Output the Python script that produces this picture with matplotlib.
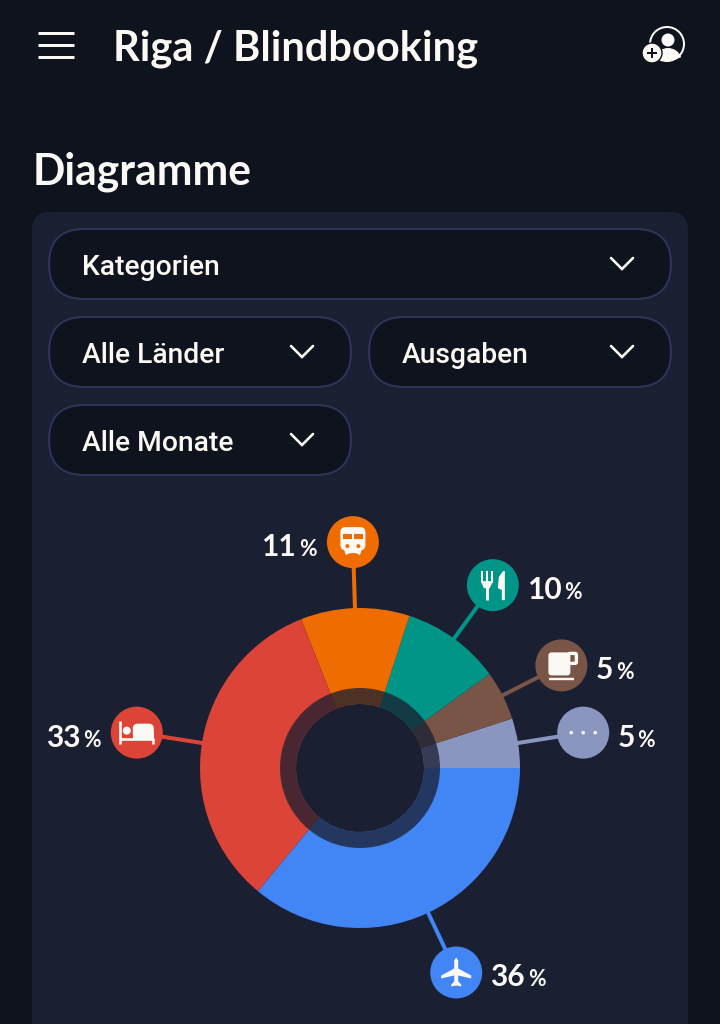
import numpy as np
import matplotlib
matplotlib.use("Agg")
import matplotlib.pyplot as plt
from matplotlib.patches import FancyBboxPatch, Circle, Rectangle, Polygon, Wedge

categories = ["Sonstiges", "Kaffee", "Essen", "Transport", "Unterkunft", "Flug"]
shares = [5, 5, 10, 11, 33, 36]
colors = ["#8a96bf", "#795548", "#009587", "#ef6c00", "#dc4437", "#4285f4"]
dropdowns = ["Kategorien", "Alle Länder", "Ausgaben", "Alle Monate"]
title = "Riga / Blindbooking"
heading = "Diagramme"

BG, CARD, EDGE, WHITE = "#0f131e", "#1a1f32", "#2e3357", "#fbf9f4"
W, H = 720, 1024
fig = plt.figure(figsize=(W/100, H/100), dpi=100, facecolor=BG)
ax = fig.add_axes([0, 0, 1, 1])
Y = lambda y: H - y
PX = 0.72  # points per pixel

def rrect(x0, y0, x1, y1, r, **kw):
    ax.add_patch(FancyBboxPatch((x0, Y(y1)), x1-x0, y1-y0, boxstyle=f"round,pad=0,rounding_size={r}", **kw))

def seg(pts, color=WHITE, lw=2, z=8, cap="round"):
    xs, ys = zip(*pts)
    ax.plot(xs, [Y(v) for v in ys], color=color, lw=lw*PX, solid_capstyle=cap, solid_joinstyle="miter", zorder=z)

def txt(x, y, s, size, weight="normal", fam="Roboto", ha="left"):
    return ax.text(x, Y(y), s, fontsize=size, fontweight=weight, family=fam, color=WHITE, ha=ha, va="baseline", zorder=9)

# page chrome
rrect(32, 212, 688, 1100, 18, fc=CARD, ec="none", zorder=1)
for yy in (33, 45, 57):
    seg([(38, yy), (74, yy)], lw=3, cap="butt")
txt(113, 61, title, 30, "bold", "Lato")
txt(33, 185, heading, 30.7, "bold", "Lato")

# profile icon
ax.add_patch(Circle((667, Y(44)), 17, fc="none", ec=WHITE, lw=2*PX, zorder=8))
ax.add_patch(Circle((668, Y(40)), 6.5, fc=WHITE, ec="none", zorder=8))
ax.add_patch(Wedge((668, Y(62)), 14, 20, 160, fc=WHITE, ec="none", zorder=8))
ax.add_patch(Circle((652, Y(53)), 10, fc=WHITE, ec=BG, lw=1, zorder=8))
seg([(647, 53), (657, 53)], color=BG, lw=2, z=9, cap="butt")
seg([(652, 48), (652, 58)], color=BG, lw=2, z=9, cap="butt")

# dropdowns
boxes = [(49, 229, 671, 299), (49, 317, 351, 387), (369, 317, 671, 387), (49, 405, 351, 475)]
for lab, (x0, y0, x1, y1) in zip(dropdowns, boxes):
    rrect(x0, y0, x1, y1, 35, fc=BG, ec=EDGE, lw=1.5, zorder=2)
    txt(x0+33, y0+46, lab, 20.3, "medium")
    cx, cy = x1-49, y0+35
    seg([(cx-11, cy-6), (cx, cy+5), (cx+11, cy-6)], lw=2.6)

# donut
cx, cy, R = 360, 768, 160
ax.pie(shares, colors=colors, startangle=0, counterclock=True, radius=R, center=(cx, Y(cy)),
       wedgeprops=dict(width=R-64, linewidth=0), frame=True)
for p in ax.patches[-len(shares):]:
    p.set_zorder(3)
ax.add_patch(Wedge((cx, Y(cy)), 80, 0, 360, width=16, fc="#1a1f32", alpha=0.76, ec="none", zorder=4))

# callouts
def icon_train(x, y):
    rrect(x-12.5, y-15, x+12.5, y+8, 5, fc=WHITE, ec="none", zorder=8)
    ax.add_patch(Polygon([(x-9, Y(y+7)), (x+9, Y(y+7)), (x+7, Y(y+13)), (x+3, Y(y+11)), (x-3, Y(y+11)), (x-7, Y(y+13))], fc=WHITE, zorder=8))
    for dx in (-5.5, 5.5):
        ax.add_patch(Rectangle((x+dx-4.5, Y(y-3)), 9, 5.5, fc="#ef6c00", zorder=9))
        ax.add_patch(Circle((x+dx, Y(y+4)), 2, fc="#ef6c00", zorder=9))

def icon_food(x, y):
    seg([(x-11, y-14), (x-11, y-2)], lw=2, cap="butt")
    seg([(x-6, y-14), (x-6, y-2)], lw=2, cap="butt")
    seg([(x-1, y-14), (x-1, y-2)], lw=2, cap="butt")
    seg([(x-6, y-4), (x-6, y+15)], lw=3, cap="butt")
    ax.add_patch(Polygon([(x-12, Y(y-4)), (x, Y(y-4)), (x-3, Y(y+3)), (x-9, Y(y+3))], fc=WHITE, zorder=8))
    ax.add_patch(Polygon([(x+10, Y(y-14)), (x+12, Y(y-14)), (x+12, Y(y+15)), (x+9, Y(y+15)), (x+9, Y(y+5)), (x+5, Y(y+3)), (x+6, Y(y-8))], fc=WHITE, zorder=8))

def icon_cup(x, y):
    rrect(x-13, y-13, x+9, y+10, 3, fc=WHITE, ec="none", zorder=8)
    rrect(x+7, y-12, x+15, y-2, 1.5, fc="none", ec=WHITE, lw=2.4, zorder=8)
    seg([(x-12, y+14), (x+13, y+14)], lw=2.4, cap="butt")

def icon_dots(x, y):
    for dx in (-12, 0, 12):
        ax.add_patch(Circle((x+dx, Y(y)), 1.8, fc=WHITE, zorder=8))

def icon_bed(x, y):
    seg([(x-17, y-12), (x-17, y+11)], lw=2.6, cap="butt")
    seg([(x-17, y+6), (x+17, y+6)], lw=2.6, cap="butt")
    seg([(x+16, y+11), (x+16, y+6)], lw=2.6, cap="butt")
    ax.add_patch(Circle((x-10, Y(y-2)), 4, fc=WHITE, zorder=8))
    rrect(x-4, y-9, x+17, y+5, 5, fc=WHITE, ec="none", zorder=8)
    ax.add_patch(Rectangle((x-4, Y(y+6)), 21, 7, fc=WHITE, ec="none", zorder=8))

def icon_plane(x, y):
    pts = [(0, -15), (2, -12), (2, -4), (15, 3), (15, 6), (2, 3), (2, 9), (5, 12), (5, 14), (0, 13),
           (-5, 14), (-5, 12), (-2, 9), (-2, 3), (-15, 6), (-15, 3), (-2, -4), (-2, -12)]
    ax.add_patch(Polygon([(x+a, Y(y+b)) for a, b in pts], fc=WHITE, zorder=8))

icons = [icon_dots, icon_cup, icon_food, icon_train, icon_bed, icon_plane]
left_side = [False, False, False, True, True, False]
bubble_dist, bubble_r = 226, 26
rend = fig.canvas.get_renderer()
ax.set_xlim(0, W); ax.set_ylim(0, H)
ax.set_aspect("auto"); ax.axis("off")

start = 0.0
for val, col, ic, left in zip(shares, colors, icons, left_side):
    mid = np.radians(start + val*1.8)
    start += val*3.6
    bx, by = cx + bubble_dist*np.cos(mid), cy - bubble_dist*np.sin(mid)
    seg([(cx + (R-2)*np.cos(mid), cy - (R-2)*np.sin(mid)), (bx, by)], color=col, lw=4, z=2.5, cap="butt")
    ax.add_patch(Circle((bx, Y(by)), bubble_r, fc=col, ec="none", zorder=7))
    ic(bx, by)
    base = by + 14
    num = txt(0, base, str(val), 21.5, "bold", "Lato")
    pct = txt(0, base, "%", 15.5, "bold", "Lato")
    nw = num.get_window_extent(rend).width
    pw = pct.get_window_extent(rend).width
    x0 = bx - bubble_r - 10 - pw - 3 - nw if left else bx + bubble_r + 8
    num.set_x(x0)
    pct.set_x(x0 + nw + 3)

fig.savefig("out.png", dpi=100, facecolor=BG)
